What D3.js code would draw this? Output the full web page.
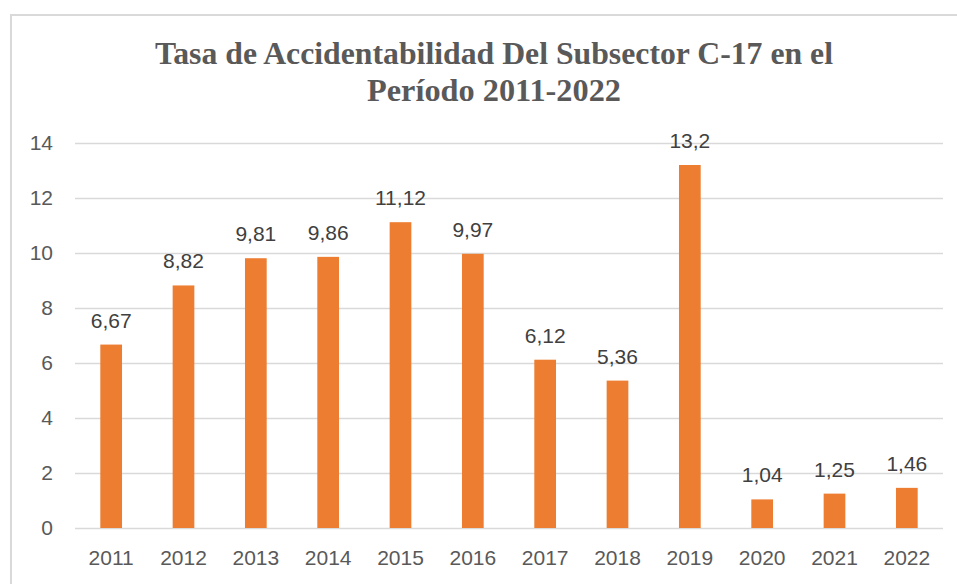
<!DOCTYPE html>
<html>
<head>
<meta charset="utf-8">
<script src="https://cdn.jsdelivr.net/npm/d3@7"></script>
<style>
  body { margin: 0; background: #fff; }
  svg { display: block; }
</style>
</head>
<body>
<div id="chart"></div>
<script>
// data
var years = ['2011','2012','2013','2014','2015','2016','2017','2018','2019','2020','2021','2022'];
var rates = [6.67, 8.82, 9.81, 9.86, 11.12, 9.97, 6.12, 5.36, 13.2, 1.04, 1.25, 1.46];
var yTicks = [0, 2, 4, 6, 8, 10, 12, 14];
var titleLines = ['Tasa de Accidentabilidad Del Subsector C-17 en el', 'Período 2011-2022'];

var W = 957, H = 584;
var svg = d3.select('#chart').append('svg')
  .attr('width', W).attr('height', H);

// chart frame (only top and left visible in the crop)
svg.append('rect')
  .attr('x', 11).attr('y', 15)
  .attr('width', W + 20).attr('height', H + 20)
  .attr('fill', '#fff')
  .attr('stroke', '#d9d9d9').attr('stroke-width', 2);

// title
var title = svg.append('g').attr('class', 'title');
title.selectAll('text')
  .data(titleLines)
  .enter().append('text')
  .attr('x', 494)
  .attr('y', function(d, i){ return 64 + i * 37; })
  .attr('text-anchor', 'middle')
  .attr('font-family', '"Liberation Serif", "Times New Roman", serif')
  .attr('font-weight', 'bold')
  .attr('font-size', '31px')
  .attr('fill', '#595959')
  .attr('textLength', function(d, i){ return i === 0 ? 678 : 254; })
  .attr('lengthAdjust', 'spacingAndGlyphs')
  .text(function(d){ return d; });

var plotL = 75, plotR = 943, plotT = 143, plotB = 528;

var x = d3.scaleBand()
  .domain(years)
  .range([plotL, plotR])
  .paddingInner(0.7)
  .paddingOuter(0.35);

var y = d3.scaleLinear()
  .domain([0, 14])
  .range([plotB, plotT]);

var font = '"Liberation Sans", Arial, sans-serif';
var fsize = '21px';

// gridlines
var yAxis = d3.axisLeft(y).tickValues(yTicks).tickSize(-(plotR - plotL)).tickPadding(22);
var gy = svg.append('g')
  .attr('transform', 'translate(' + plotL + ',0)')
  .call(yAxis);
gy.select('.domain').remove();
gy.selectAll('.tick line').attr('stroke', '#d9d9d9').attr('stroke-width', 1.5);
gy.selectAll('.tick text')
  .attr('font-family', font).attr('font-size', fsize).attr('fill', '#595959');

// x axis labels
var xAxis = d3.axisBottom(x).tickSize(0).tickPadding(22);
var gx = svg.append('g')
  .attr('transform', 'translate(0,' + plotB + ')')
  .call(xAxis);
gx.select('.domain').remove();
gx.selectAll('.tick text')
  .attr('font-family', font).attr('font-size', fsize).attr('fill', '#595959');

// bars
svg.append('g').selectAll('rect')
  .data(rates)
  .enter().append('rect')
  .attr('x', function(d, i){ return x(years[i]); })
  .attr('y', function(d){ return y(d); })
  .attr('width', x.bandwidth())
  .attr('height', function(d){ return plotB - y(d); })
  .attr('fill', '#ed7d31');

// value labels
svg.append('g').selectAll('text')
  .data(rates)
  .enter().append('text')
  .attr('x', function(d, i){ return x(years[i]) + x.bandwidth() / 2; })
  .attr('y', function(d){ return y(d) - 17; })
  .attr('text-anchor', 'middle')
  .attr('font-family', font)
  .attr('font-size', fsize)
  .attr('fill', '#404040')
  .text(function(d){ return String(d).replace('.', ','); });
</script>
</body>
</html>
